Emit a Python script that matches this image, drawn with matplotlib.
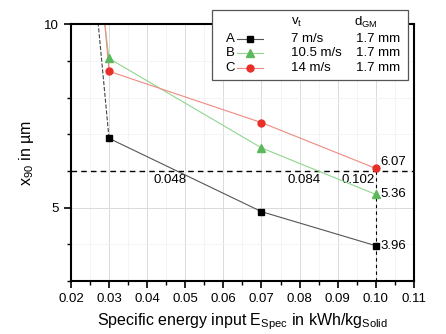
import numpy as np
import matplotlib
matplotlib.use('Agg')
import matplotlib.pyplot as plt
from matplotlib.ticker import MultipleLocator, FormatStrFormatter
from matplotlib.patches import Rectangle
from matplotlib.lines import Line2D

plt.rcParams['font.family'] = ['Liberation Sans', 'DejaVu Sans']

# data
e_spec = [0.03, 0.07, 0.10]
x90_a = [6.89, 4.89, 3.96]
x90_b = [9.07, 6.63, 5.36]
x90_c = [8.72, 7.32, 6.07]

# segments that leave the plot at the top (earlier points, off scale)
lead_x = [0.025, 0.03]
lead_a = [12.4, 6.89]
lead_b = [13.4, 9.07]
lead_c = [14.6, 8.72]

names = ['A', 'B', 'C']
speeds = ['7 m/s', '10.5 m/s', '14 m/s']
gaps = ['1.7 mm', '1.7 mm', '1.7 mm']
crossings = [0.048, 0.084, 0.102]
cross_pos = [0.046, 0.0812, 0.0953]
end_labels = ['6.07', '5.36', '3.96']
end_vals = [6.07, 5.36, 3.96]
target = 6.0

fig = plt.figure(figsize=(4.46, 3.34), dpi=100)
ax = fig.add_axes([0.159, 0.159, 0.769, 0.768])

col_a = 'black'
col_b_line, col_b = '#8fd68f', '#5cb85c'
col_c_line, col_c = '#f08a80', '#e8302a'

ax.plot(lead_x, lead_a, '--', color='#444444', lw=0.8)
ax.plot(lead_x, lead_b, '-', color=col_b_line, lw=0.8)
ax.plot(lead_x, lead_c, '-', color=col_c_line, lw=0.8)

ax.plot(e_spec, x90_a, '-', color='#555555', lw=0.8, marker='s', ms=4.5,
        mfc=col_a, mec=col_a, zorder=4)
ax.plot(e_spec, x90_b, '-', color=col_b_line, lw=0.8, marker='^', ms=5.5,
        mfc=col_b, mec=col_b, zorder=4)
ax.plot(e_spec, x90_c, '-', color=col_c_line, lw=0.8, marker='o', ms=5,
        mfc=col_c, mec=col_c, zorder=4)

ax.axhline(target, color='black', ls='--', lw=1.0, dashes=(4, 3), zorder=3)
ax.plot([e_spec[-1], e_spec[-1]], [3, x90_c[-1]], color='black', ls='--',
        lw=0.8, dashes=(3, 3), zorder=3)

for xp, lab in zip(cross_pos, crossings):
    ax.text(xp, 5.92, '%.3f' % lab, ha='center', va='top', fontsize=9.5)
for yv, lab in zip(end_vals, end_labels):
    yy = yv + 0.17 if lab == '6.07' else yv
    ax.text(0.1013, yy, lab, ha='left', va='center', fontsize=9.5)

ax.set_xlim(0.02, 0.11)
ax.set_ylim(3, 10)
ax.xaxis.set_major_locator(MultipleLocator(0.01))
ax.xaxis.set_minor_locator(MultipleLocator(0.005))
ax.xaxis.set_major_formatter(FormatStrFormatter('%.2f'))
ax.yaxis.set_major_locator(MultipleLocator(5))
ax.yaxis.set_minor_locator(MultipleLocator(1))

ax.grid(True, which='major', color='#dadada', lw=0.7)
ax.grid(True, which='minor', color='#f2f2f2', lw=0.6)
ax.set_axisbelow(True)

for s in ax.spines.values():
    s.set_linewidth(1.5)
ax.tick_params(which='major', direction='out', length=5, width=1.2,
               labelsize=9.5, top=False, right=False)
ax.tick_params(which='minor', direction='out', length=3, width=1.0,
               top=False, right=False)

ax.set_xlabel('Specific energy input E$_\\mathregular{Spec}$ in kWh/kg$_\\mathregular{Solid}$',
              fontsize=11.5, labelpad=5)
ax.set_ylabel('x$_\\mathregular{90}$ in µm', fontsize=11.5, labelpad=6)

# hand-made legend box
W, H = 446.0, 334.0
def fx(px):
    return px / W
def fy(py):
    return 1 - py / H

fig.add_artist(Rectangle((fx(212), fy(80)), fx(408) - fx(212), fy(10) - fy(80),
                         transform=fig.transFigure, facecolor='white',
                         edgecolor='#555555', lw=0.9, zorder=10))
fig.text(fx(297), fy(22), 'v$_\\mathregular{t}$', ha='center', va='center',
         fontsize=9.5, zorder=11)
fig.text(fx(366), fy(22), 'd$_\\mathregular{GM}$', ha='center', va='center',
         fontsize=9.5, zorder=11)

styles = [('s', col_a, '#555555', 4.5), ('^', col_b, col_b_line, 5.5),
          ('o', col_c, col_c_line, 5)]
rows = [39, 53, 68]
for nm, sp, gp, (mk, mc, lc, ms), ry in zip(names, speeds, gaps, styles, rows):
    fig.text(fx(230), fy(ry), nm, ha='center', va='center', fontsize=9.5, zorder=11)
    fig.add_artist(Line2D([fx(237), fx(263)], [fy(ry), fy(ry)],
                          transform=fig.transFigure, color=lc, lw=0.8,
                          zorder=11))
    fig.add_artist(Line2D([fx(250)], [fy(ry)], transform=fig.transFigure,
                          marker=mk, ms=ms, mfc=mc, mec=mc, ls='none',
                          zorder=12))
    fig.text(fx(291), fy(ry), sp, ha='left', va='center', fontsize=9.5, zorder=11)
    fig.text(fx(356), fy(ry), gp, ha='left', va='center', fontsize=9.5, zorder=11)

fig.savefig('out.png', dpi=100)
